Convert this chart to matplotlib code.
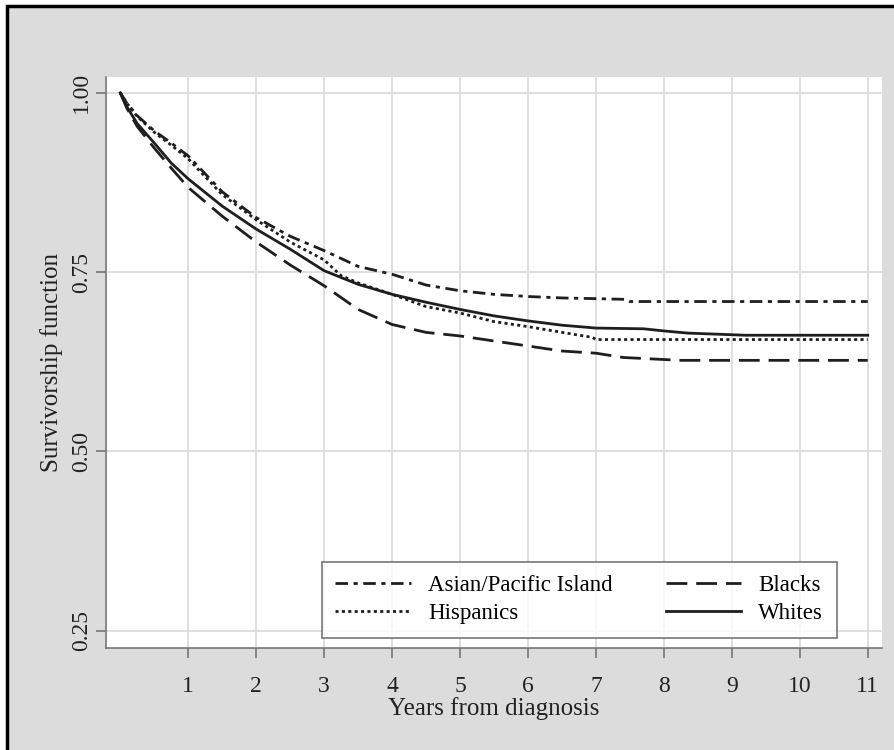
import matplotlib
matplotlib.use('Agg')
from matplotlib import pyplot as plt
from matplotlib.patches import Rectangle

# Kaplan-Meier curves
t_asian = [0, 0.1, 0.25, 0.5, 0.75, 1, 1.5, 2, 2.5, 3, 3.5, 4, 4.5, 5, 5.5, 6, 6.5, 7, 7.45, 7.5, 11]
s_asian = [1.0, 0.985, 0.968, 0.947, 0.93, 0.912, 0.862, 0.826, 0.80, 0.78, 0.758, 0.747, 0.732,
           0.724, 0.719, 0.716, 0.714, 0.713, 0.712, 0.709, 0.709]

t_hisp = [0, 0.1, 0.25, 0.5, 0.75, 1, 1.5, 2, 2.5, 3, 3.25, 3.5, 4, 4.5, 5, 5.5, 6, 6.5, 6.95, 7, 11]
s_hisp = [1.0, 0.985, 0.967, 0.945, 0.927, 0.908, 0.858, 0.823, 0.792, 0.767, 0.745, 0.735, 0.719,
          0.702, 0.693, 0.681, 0.674, 0.666, 0.659, 0.656, 0.656]

t_black = [0, 0.1, 0.25, 0.5, 0.75, 1, 1.5, 2, 2.5, 3, 3.5, 4, 4.5, 5, 5.5, 6, 6.5, 7, 7.4, 8.25, 11]
s_black = [1.0, 0.978, 0.953, 0.923, 0.895, 0.868, 0.828, 0.792, 0.76, 0.731, 0.698, 0.677, 0.666,
           0.661, 0.654, 0.647, 0.640, 0.637, 0.631, 0.627, 0.627]

t_white = [0, 0.1, 0.25, 0.5, 0.75, 1, 1.5, 2, 2.5, 3, 3.5, 4, 4.5, 5, 5.5, 6, 6.5, 7, 7.7, 8, 8.35, 9.2, 11]
s_white = [1.0, 0.98, 0.957, 0.93, 0.902, 0.88, 0.842, 0.81, 0.782, 0.752, 0.733, 0.719, 0.708,
           0.698, 0.689, 0.682, 0.676, 0.672, 0.671, 0.668, 0.665, 0.662, 0.662]

x_ticks = list(range(1, 12))
y_ticks = [0.25, 0.50, 0.75, 1.00]
y_labels = ['0.25', '0.50', '0.75', '1.00']

plt.rcParams['font.family'] = ['Liberation Serif', 'DejaVu Serif']

bg = '#dcdcdc'
ink = '#1e1e1e'
fig = plt.figure(figsize=(8.94, 7.5), dpi=100, facecolor='white')
# gray panel with black frame (only left/top edge visible)
fig.patches.append(Rectangle((7 / 894, -0.1), 1.2, (1 - 6 / 750) + 0.1, transform=fig.transFigure,
                             facecolor=bg, edgecolor='black', linewidth=2.5, zorder=-10))

ax = fig.add_axes([106 / 894, 1 - 648 / 750, 776 / 894, 571 / 750])
ax.set_facecolor('white')
ax.set_xlim(-0.21, 11.21)
ax.set_ylim(0.226, 1.022)

ax.plot(t_asian, s_asian, color=ink, lw=2.0, dashes=(4.5, 2, 1.5, 2), label='Asian/Pacific Island')
ax.plot(t_hisp, s_hisp, color=ink, lw=2.0, dashes=(1.1, 1.2), label='Hispanics')
ax.plot(t_black, s_black, color=ink, lw=2.0, dashes=(7.5, 3.2), label='Blacks')
ax.plot(t_white, s_white, color=ink, lw=2.0, label='Whites')

ax.set_xticks(x_ticks)
ax.set_yticks(y_ticks)
ax.set_yticklabels(y_labels, rotation=90, va='center')
ax.grid(True, color='#d9d9d9', lw=1.2)
ax.set_axisbelow(True)
for side in ['top', 'right']:
    ax.spines[side].set_visible(False)
for side in ['left', 'bottom']:
    ax.spines[side].set_color('#777777')
    ax.spines[side].set_linewidth(1.2)
ax.tick_params(direction='out', length=7, width=1.2, color='#777777', labelsize=17, labelcolor='#222222')
ax.tick_params(axis='x', pad=13)
ax.tick_params(axis='y', pad=3)

ax.set_xlabel('Years from diagnosis', fontsize=18, color='#222222', labelpad=0)
ax.set_ylabel('Survivorship function', fontsize=18, color='#222222', labelpad=6)

leg = ax.legend(ncol=2, loc='lower left', bbox_to_anchor=(0.278, 0.0175, 0.664, 0.142), mode='expand',
                fontsize=16.5, frameon=True, fancybox=False, handlelength=3.3, handletextpad=0.75,
                borderaxespad=0, labelspacing=0.3, borderpad=0.6)
leg.get_frame().set_edgecolor('#555555')
leg.get_frame().set_linewidth(1.2)

fig.savefig('out.png', dpi=100, facecolor=fig.get_facecolor())
